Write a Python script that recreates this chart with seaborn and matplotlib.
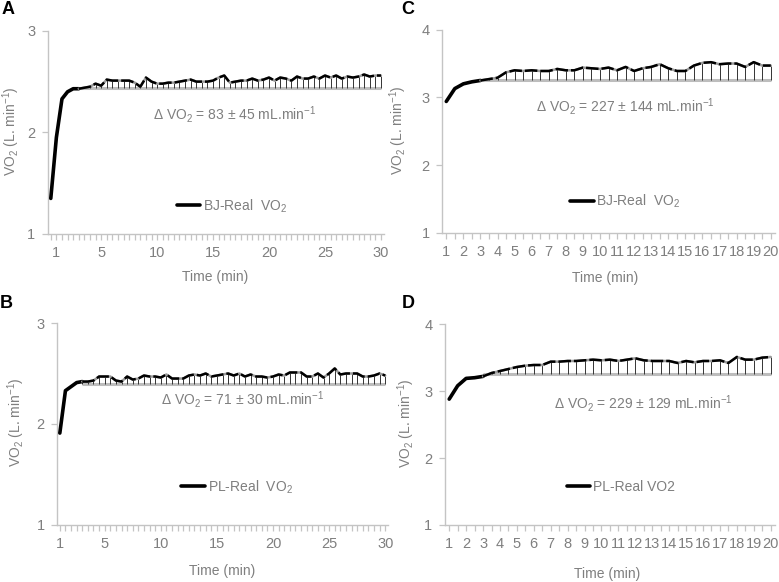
import numpy as np
import matplotlib
matplotlib.use("Agg")
import matplotlib.pyplot as plt
import seaborn as sns

# ---- data (30 s sampling) ----
time_a = np.arange(0.5, 30.01, 0.5)
vo2_a = [1.35, 1.95, 2.33, 2.40, 2.43, 2.43, 2.44, 2.45, 2.48, 2.46,
         2.52, 2.51, 2.51, 2.51, 2.51, 2.49, 2.45, 2.54, 2.50, 2.48,
         2.48, 2.49, 2.49, 2.50, 2.51, 2.52, 2.50, 2.50, 2.50, 2.51,
         2.54, 2.56, 2.49, 2.50, 2.51, 2.51, 2.53, 2.51, 2.52, 2.54,
         2.51, 2.54, 2.53, 2.51, 2.55, 2.53, 2.53, 2.55, 2.53, 2.56,
         2.54, 2.56, 2.53, 2.55, 2.54, 2.55, 2.57, 2.55, 2.56, 2.56]

time_b = np.arange(1.0, 30.01, 0.5)
vo2_b = [1.91, 2.33, 2.37, 2.41, 2.42, 2.42, 2.43, 2.47, 2.47, 2.47,
         2.43, 2.42, 2.47, 2.44, 2.45, 2.48, 2.47, 2.47, 2.46, 2.49,
         2.45, 2.45, 2.45, 2.48, 2.49, 2.48, 2.50, 2.47, 2.48, 2.49,
         2.50, 2.48, 2.50, 2.47, 2.49, 2.47, 2.47, 2.46, 2.47, 2.49,
         2.48, 2.51, 2.51, 2.51, 2.47, 2.47, 2.50, 2.46, 2.50, 2.55,
         2.49, 2.50, 2.50, 2.50, 2.47, 2.47, 2.48, 2.50, 2.48]

time_c = np.arange(1.0, 20.01, 0.5)
vo2_c = [2.94, 3.13, 3.20, 3.23, 3.25, 3.27, 3.29, 3.37, 3.40, 3.39,
         3.40, 3.39, 3.39, 3.42, 3.40, 3.40, 3.44, 3.43, 3.42, 3.44,
         3.40, 3.45, 3.39, 3.43, 3.45, 3.49, 3.43, 3.39, 3.39, 3.47,
         3.51, 3.52, 3.49, 3.50, 3.50, 3.45, 3.52, 3.47, 3.47]

time_d = np.arange(1.0, 20.01, 0.5)
vo2_d = [2.88, 3.08, 3.19, 3.20, 3.22, 3.27, 3.30, 3.33, 3.36, 3.38,
         3.39, 3.39, 3.44, 3.44, 3.45, 3.45, 3.46, 3.47, 3.46, 3.47,
         3.45, 3.47, 3.49, 3.46, 3.45, 3.45, 3.45, 3.42, 3.45, 3.43,
         3.45, 3.45, 3.46, 3.42, 3.51, 3.47, 3.47, 3.50, 3.51]

baseline = {"A": 2.44, "B": 2.40, "C": 3.25, "D": 3.25}
baseline_start = 3.0

panels = {
    "A": dict(t=time_a, v=vo2_a, ylim=(1, 3), yticks=[1, 2, 3],
              xticks=[1, 5, 10, 15, 20, 25, 30], xlim=(0.25, 30.25),
              legend="BJ-Real  VO$_2$", delta="\u0394 VO$_2$ = 83 \u00b1 45 mL.min$^{-1}$"),
    "B": dict(t=time_b, v=vo2_b, ylim=(1, 3), yticks=[1, 2, 3],
              xticks=[1, 5, 10, 15, 20, 25, 30], xlim=(0.75, 30.25),
              legend="PL-Real  VO$_2$", delta="\u0394 VO$_2$ = 71 \u00b1 30 mL.min$^{-1}$"),
    "C": dict(t=time_c, v=vo2_c, ylim=(1, 4), yticks=[1, 2, 3, 4],
              xticks=list(range(1, 21)), xlim=(0.75, 20.25),
              legend="BJ-Real  VO$_2$", delta="\u0394 VO$_2$ = 227 \u00b1 144 mL.min$^{-1}$"),
    "D": dict(t=time_d, v=vo2_d, ylim=(1, 4), yticks=[1, 2, 3, 4],
              xticks=list(range(1, 21)), xlim=(0.75, 20.25),
              legend="PL-Real VO2", delta="\u0394 VO$_2$ = 229 \u00b1 129 mL.min$^{-1}$"),
}

# layout (figure fractions) and text placement (axes fractions)
layout = {
    "A": dict(rect=[0.0616, 0.598, 0.431, 0.349], leg=(0.548, 0.138), dl=(0.557, 0.586),
              xl=(0.497, -0.177), yl=(-0.078, 0.507), letter=(8, 10)),
    "C": dict(rect=[0.5674, 0.600, 0.4275, 0.349], leg=(0.55, 0.153), dl=(0.55, 0.62),
              xl=(0.49, -0.187), yl=(-0.099, 0.507), letter=(408, 10)),
    "B": dict(rect=[0.0732, 0.098, 0.4249, 0.347], leg=(0.544, 0.188), dl=(0.562, 0.619),
              xl=(0.498, -0.193), yl=(-0.09, 0.507), letter=(6, 303)),
    "D": dict(rect=[0.5712, 0.098, 0.4236, 0.345], leg=(0.533, 0.19), dl=(0.60, 0.607),
              xl=(0.49, -0.209), yl=(-0.085, 0.507), letter=(408, 304)),
}

sns.set_theme(style="white")
plt.rcParams["font.family"] = ["Liberation Sans", "DejaVu Sans"]
plt.rcParams["mathtext.fontset"] = "custom"
plt.rcParams["mathtext.rm"] = "Liberation Sans"
plt.rcParams["mathtext.it"] = "Liberation Sans:italic"
plt.rcParams["mathtext.default"] = "regular"

GRAY_TXT = "#7f7f7f"
GRAY_AX = "#c4c4c4"

fig = plt.figure(figsize=(7.79, 5.82), dpi=100)

for key in ["A", "C", "B", "D"]:
    p = panels[key]
    lay = layout[key]
    ax = fig.add_axes(lay["rect"])
    t = np.asarray(p["t"])
    v = np.asarray(p["v"])
    base = baseline[key]
    on = t >= baseline_start

    # gray reference line and drop lines
    ax.hlines(base, baseline_start, t[-1], color="#bdbdbd", lw=2.2, zorder=1)
    ax.vlines(t[on], base, v[on], color="#333333", lw=0.7, zorder=2)

    # VO2 response: thick onset, dashed steady state
    head = t <= baseline_start
    sns.lineplot(x=t[head], y=v[head], ax=ax, color="black", lw=2.6,
                 label=p["legend"], zorder=3)
    sns.lineplot(x=t[on], y=v[on], ax=ax, color="#9a9a9a", lw=1.8, zorder=3)
    sns.lineplot(x=t[on], y=v[on], ax=ax, color="black", lw=1.8,
                 dashes=False, zorder=4, linestyle=(0, (5, 1.2)))

    ax.set_xlim(*p["xlim"])
    ax.set_ylim(*p["ylim"])
    ax.set_yticks(p["yticks"])
    ax.set_xticks(p["xticks"])
    ax.set_xticks(t, minor=True)

    for s in ["top", "right"]:
        ax.spines[s].set_visible(False)
    for s in ["left", "bottom"]:
        ax.spines[s].set_color(GRAY_AX)
        ax.spines[s].set_linewidth(1.0)
    ax.tick_params(axis="both", which="both", direction="out", length=4,
                   width=0.9, color=GRAY_AX, labelcolor=GRAY_TXT, labelsize=10.5)
    ax.tick_params(axis="x", which="both", bottom=True, pad=5)
    ax.tick_params(axis="y", left=True, pad=5)

    ax.set_xlabel("Time (min)", color=GRAY_TXT, fontsize=10)
    ax.xaxis.set_label_coords(*lay["xl"])
    ax.set_ylabel("VO$_2$ (L. min$^{-1}$)", color=GRAY_TXT, fontsize=10)
    ax.yaxis.set_label_coords(*lay["yl"])

    ax.text(*lay["dl"], p["delta"], transform=ax.transAxes, ha="center",
            va="center", color=GRAY_TXT, fontsize=10)

    leg = ax.legend(loc="center", bbox_to_anchor=lay["leg"], frameon=False,
                    fontsize=10, handlelength=1.7, handletextpad=0.2,
                    labelcolor=GRAY_TXT)

    fig.text(lay["letter"][0] / 779, 1 - lay["letter"][1] / 582, key,
             ha="center", va="center", fontsize=13, fontweight="bold",
             color="black")

fig.savefig("out.png", dpi=100)
